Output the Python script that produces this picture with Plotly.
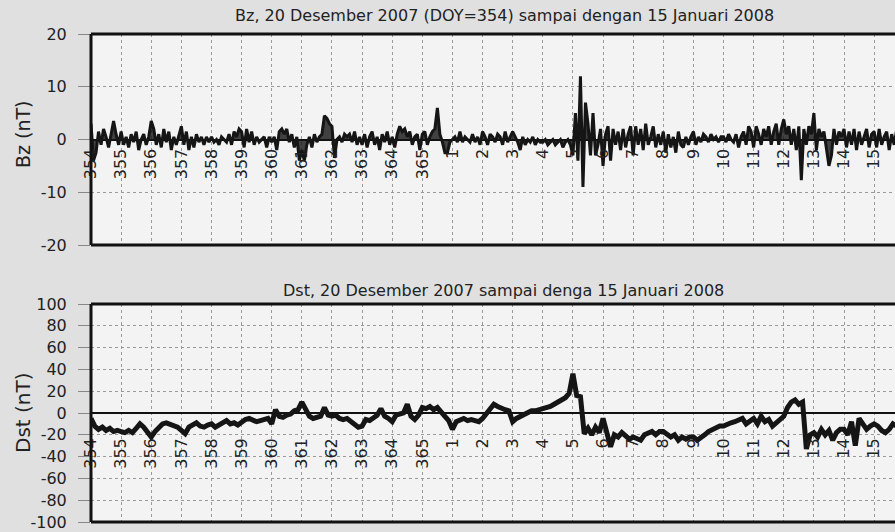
import plotly.graph_objects as go

# ---------------- data ----------------
day_labels = ["354", "355", "356", "357", "358", "359", "360", "361", "362", "363",
              "364", "365", "1", "2", "3", "4", "5", "6", "7", "8", "9", "10",
              "11", "12", "13", "14", "15"]

# Bz (nT), 2-hour samples (12 per day), starting 20 Dec 2007 (DOY 354)
bz_values = [
    3, -4, -2.5, 1.5, -1, 2, 0.5, -1.5, 1, 3.5, 1, -1,          # 354
    1.5, -1, 0.5, -1.5, 1, -0.5, 1.5, -2, 0, 1, -1, 0.5,        # 355
    3.5, 2, -1, 1, -1.5, 2, -0.5, 1.5, -2, 0.5, -1, 1,          # 356
    2.5, -1, 1.5, -2, 0.5, -1.5, 1, -0.5, 0.5, -1, 0.5, -0.5,   # 357
    0.5, -0.5, 0, -1, 0.5, 0, -0.5, 1, -1, 1.5, 0.5, 2,         # 358
    1.5, -1.5, 2, -0.5, 1.5, -1, 0.5, -0.5, 0, 0.5, -1.5, 0.5,  # 359
    -0.5, 0.5, -2, 1.5, 2, 1, 2, -0.5, 1, -1.5, 0.5, -4,        # 360
    -2, -4, -1, 0.5, -1.5, 1, -0.5, 0.5, 1, 4.5, 4, 3,          # 361
    2.5, -3.5, 0, 0.5, -0.5, 1, 0.5, 1, -0.5, 1.5, -1, 0.5,     # 362
    -1, 1, -1.5, 0.5, 1.5, -1, 0.5, -2, 1, -0.5, 1.5, -1,       # 363
    0.5, -1.5, 1, 2.5, 1.5, 2, 0.5, 1.5, -1, 0.5, 1, -2,        # 364
    1, 1.5, -1, 0.5, 1.5, 2, 6, 1, -0.5, -2.5, -2.5, -0.5,      # 365
    0, 0.5, -0.5, 1.5, -0.5, 0.5, 0, -0.5, 1, -0.5, 0.5, -1,    # 1 Jan
    1.5, 0.5, -1, 1, 0.5, -0.5, 1, 0.5, -1, 1.5, -0.5, 0.5,     # 2
    1.5, 0.5, -0.5, -2, 0.5, -1, 0, -0.5, 0.5, -1, 0, -0.5,     # 3
    -0.5, 0, -1, -0.5, 0, -1, -0.5, 0, -1.5, -0.5, 0, -1,       # 4
    -3, 5, -4, 12, -9, 7, 3, -3, 5, -3, -1, 2,                  # 5
    -5, 1, 2.5, -4, 2, -1, 1.5, -2, 2, -1.5, 1, 2.5,            # 6
    -3, 2.5, -1, 2, -2, 3, -1, 0.5, 2.5, -1.5, 1, -1,           # 7
    1.5, -2.5, 1, -1.5, 0.5, -2.5, 1.5, -1, -1.5, 0.5, -1, 0.5, # 8
    1.5, -1, 0.5, -0.5, 1, 0.5, -0.5, 1, 0, 0.5, -0.5, 0.5,     # 9
    0.5, -0.5, 1, 0, -0.5, 1, -1.5, 0.5, 1.5, -1, 2.5, 1.5,     # 10
    -1.5, 2.5, 1, -1, 2, 0.5, 2.5, -1, 1.5, 3, -1, 2,           # 11
    3.8, 1, 2.5, -1, 2, -2, 2.5, -7.7, 2, -1, 2.5, 1,           # 12
    5, -2, 2, 0.5, 1.5, -2, -5, -3, 2, -1, 1.5, 0.5,            # 13
    2, -1.5, 1.5, -1, 2, -2, 1.5, -1, 0.5, 2, -1.5, 1,          # 14
    1.5, -1.5, 2, -1, 0.5, 1.5, -2, 1, -1, 2, -1.5, 1,          # 15
]

# Dst (nT), 3-hour samples (8 per day)
dst_values = [
    -5, -12, -15, -13, -16, -14, -17, -16,      # 354
    -17, -18, -16, -18, -14, -10, -13, -18,     # 355
    -22, -17, -13, -10, -9, -10, -11, -13,      # 356
    -16, -19, -13, -11, -9, -12, -13, -11,      # 357
    -10, -13, -11, -8, -7, -10, -9, -11,        # 358
    -8, -6, -5, -7, -8, -7, -6, -5,             # 359
    -10, 3, -3, -4, -2, -1, 2, 3,               # 360
    10, 4, -3, -5, -4, -3, 5, -2,               # 361
    -3, -2, -5, -6, -5, -8, -11, -13,           # 362
    -12, -6, -7, -5, -2, 4, -3, -5,             # 363
    -8, -2, -1, 0, 8, -3, -6, -2,               # 364
    5, 4, 6, 3, 5, 0, -3, -7,                   # 365
    -15, -8, -6, -5, -7, -6, -7, -8,            # 1 Jan
    -5, 0, 5, 8, 6, 4, 3, 2,                    # 2
    -8, -5, -3, -1, 0, 2, 2, 3,                 # 3
    3, 4, 6, 8, 10, 12, 14, 18,                 # 4
    36, 16, 15, -19, -14, -20, -13, -18,        # 5
    -5, -18, -31, -20, -22, -18, -21, -24,      # 6
    -22, -23, -25, -20, -18, -17, -20, -17,     # 7
    -17, -20, -22, -20, -25, -22, -24, -22,     # 8
    -22, -25, -23, -20, -17, -15, -13, -12,     # 9
    -12, -10, -9, -8, -6, -5, -10, -7,          # 10
    -5, -10, -3, -8, -6, -12, -9, -5,           # 11
    -3, 5, 10, 12, 8, 10, -33, -20,             # 12
    -18, -22, -15, -20, -16, -25, -18, -15,     # 13
    -15, -20, -8, -30, -5, -10, -15, -12,       # 14
    -10, -12, -16, -18, -15, -10, -12, -14,     # 15
]

bz_ticks = [-20, -10, 0, 10, 20]
bz_tick_text = ["-20", "-10", "0", "10", "20"]
dst_ticks = [-100, -80, -60, -40, -20, 0, 20, 40, 60, 80, 100]
dst_tick_text = ["-100", "-80", "-60", "-40", "-20", "0", "20", "40", "60", "80", "100"]

title_bz = "Bz, 20 Desember 2007 (DOY=354) sampai dengan 15 Januari 2008"
title_dst = "Dst, 20 Desember 2007 sampai denga 15 Januari 2008"

# ---------------- figure ----------------
W, H = 895, 532
L = 91
PX_PER_DAY = 30.12
x_max = (W - L) / PX_PER_DAY

bz_x = [i / 12 for i in range(len(bz_values))]
dst_x = [i / 8 for i in range(len(dst_values))]

FONT = "DejaVu Sans"
INK = "#151515"
GRID = "#9a9a9a"

top_dom = [1 - 245 / H, 1 - 34 / H]
bot_dom = [1 - 522 / H, 1 - 304 / H]

fig = go.Figure()
fig.add_trace(go.Scatter(x=bz_x, y=bz_values, mode="lines", xaxis="x", yaxis="y",
                         line=dict(color=INK, width=3), fill="tozeroy",
                         fillcolor="rgba(20,20,20,0.8)", showlegend=False))
fig.add_trace(go.Scatter(x=dst_x, y=dst_values, mode="lines", xaxis="x2", yaxis="y2",
                         line=dict(color=INK, width=5), showlegend=False))

tickvals = list(range(len(day_labels)))


def xaxis_cfg(pos, standoff):
    return dict(domain=[0, 1], range=[0, x_max], anchor="free", position=pos,
                tickvals=tickvals, ticktext=day_labels, tickangle=-90,
                showgrid=True, gridcolor=GRID, griddash="dot", gridwidth=1,
                showline=False, zeroline=False, ticks="", automargin=False,
                ticklabelstandoff=standoff,
                tickfont=dict(family=FONT, size=16, color="#222"))


def yaxis_cfg(dom, rng, ticks, texts, anchor):
    return dict(domain=dom, range=rng, tickvals=ticks, ticktext=texts,
                anchor=anchor, showgrid=True, automargin=False,
                gridcolor=GRID, griddash="dot", gridwidth=1,
                zeroline=True, zerolinecolor="#111", zerolinewidth=1.5,
                showline=False, ticks="outside", ticklen=12, tickcolor="#888",
                ticklabelstandoff=8,
                tickfont=dict(family=FONT, size=16, color="#222"))


fig.update_layout(
    width=W, height=H,
    margin=dict(l=L, r=0, t=0, b=0),
    paper_bgcolor="#e0e0e0",
    plot_bgcolor="#f3f3f3",
    xaxis=xaxis_cfg(sum(top_dom) / 2, 5),
    yaxis=yaxis_cfg(top_dom, [-20, 20], bz_ticks, bz_tick_text, "x"),
    xaxis2=xaxis_cfg(sum(bot_dom) / 2, 21),
    yaxis2=yaxis_cfg(bot_dom, [-100, 100], dst_ticks, dst_tick_text, "x2"),
)

# frames (left, top, bottom; right edge lies outside the picture)
shapes = []
for yr in ["y", "y2"]:
    xr = "x domain" if yr == "y" else "x2 domain"
    yd = yr + " domain"
    shapes += [
        dict(type="line", xref=xr, yref=yd, x0=0, x1=0, y0=0, y1=1,
             line=dict(color="#111", width=3)),
        dict(type="line", xref=xr, yref=yd, x0=0, x1=1, y0=1, y1=1,
             line=dict(color="#111", width=3)),
        dict(type="line", xref=xr, yref=yd, x0=0, x1=1, y0=0, y1=0,
             line=dict(color="#111", width=3)),
    ]
fig.update_layout(shapes=shapes)


def px(xp):
    return (xp - L) / (W - L)


def py(yp):
    return 1 - yp / H


def label(text, xp, yp, size, angle=0):
    return dict(text=text, x=px(xp), y=py(yp), xref="paper", yref="paper",
                xanchor="center", yanchor="middle", showarrow=False,
                textangle=angle, font=dict(family=FONT, size=size, color="#222"))


ann = [
    label(title_bz, 504, 15, 16),
    label(title_dst, 503, 290, 16),
    label("Bz (nT)", 23, 134, 19, -90),
    label("Dst (nT)", 23, 413, 20, -90),
]
fig.update_layout(annotations=ann)

fig.write_html("out.html", config={"displayModeBar": False},
               post_script="document.body.style.margin='0';")
